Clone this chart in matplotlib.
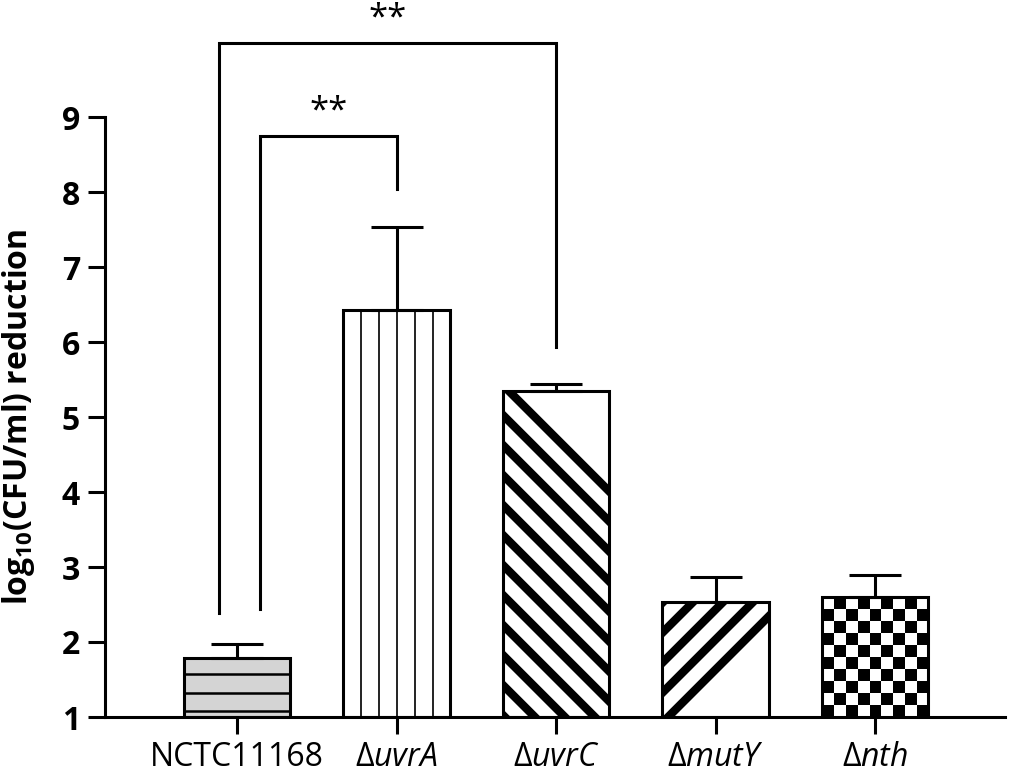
import numpy as np
import matplotlib
matplotlib.use("Agg")
import matplotlib.pyplot as plt

plt.rcParams['font.family'] = ['Open Sans', 'DejaVu Sans']
plt.rcParams['mathtext.fontset'] = 'custom'
plt.rcParams['mathtext.rm'] = 'Open Sans'
plt.rcParams['mathtext.it'] = 'Open Sans:italic'
plt.rcParams['mathtext.bf'] = 'Open Sans:bold'

# ---------------- data ----------------
categories = ['NCTC11168', r'$\Delta\mathit{uvrA}$', r'$\Delta\mathit{uvrC}$',
              r'$\Delta\mathit{mutY}$', r'$\Delta\mathit{nth}$']
values = [1.79, 6.43, 5.35, 2.54, 2.60]
errors = [0.18, 1.10, 0.09, 0.33, 0.29]
yticks = [1, 2, 3, 4, 5, 6, 7, 8, 9]
# significance comparisons: (left group, right group, label)
comparisons = [(0, 2, '**'), (0, 1, '**')]
bracket_tops = [9.99, 8.75]
bracket_left_ends = [2.39, 2.44]
bracket_right_ends = [5.93, 8.04]

# ---------------- figure ----------------
W, H = 1009, 778
fig = plt.figure(figsize=(W / 100, H / 100), dpi=100)
ax = fig.add_axes([105 / W, (H - 717) / H, 900 / W, 600 / H])
x = np.arange(len(categories))
ax.set_xlim(-0.828, 4.815)
ax.set_ylim(1, 9)

LW = 2.2
bw = 0.67
fills = ['#d4d4d4', 'white', 'white', 'white', 'white']
bars = ax.bar(x, np.array(values) - 1, bottom=1, width=bw, color=fills,
              edgecolor='none', zorder=2)
ax.bar(x, np.array(values) - 1, bottom=1, width=bw, facecolor='none',
       edgecolor='black', linewidth=LW, zorder=5)

inv = ax.transData.inverted()


def px_rect(patch):
    x0, y0 = patch.get_x(), patch.get_y()
    x1, y1 = x0 + patch.get_width(), y0 + patch.get_height()
    (px0, py0), (px1, py1) = ax.transData.transform([(x0, y0), (x1, y1)])
    return px0, py0, px1, py1


def draw_px_line(p, q, patch, lw, color='black'):
    d = inv.transform([p, q])
    ln, = ax.plot(d[:, 0], d[:, 1], color=color, lw=lw, zorder=3,
                  solid_capstyle='butt')
    ln.set_clip_path(patch)


# NCTC11168: horizontal lines
p = bars[0]
px0, py0, px1, py1 = px_rect(p)
yy = py0 + 6
while yy < py1:
    draw_px_line((px0 - 5, yy), (px1 + 5, yy), p, 1.8)
    yy += 18.5

# uvrA: vertical thin lines
p = bars[1]
px0, py0, px1, py1 = px_rect(p)
cx = (px0 + px1) / 2
for k in range(-4, 5):
    xx = cx + 18 * k
    if px0 + 2 < xx < px1 - 2:
        draw_px_line((xx, py0 - 5), (xx, py1 + 5), p, 1.4, '#222222')

STRIPE = 6.0
period = 30
# uvrC: thick "\" stripes
p = bars[2]
px0, py0, px1, py1 = px_rect(p)
c = px0 + py1 + 6
w = px1 - px0
while c > px0 + py0 - w - period:
    # line: x + y = c
    draw_px_line((px0 - 50, c - (px0 - 50)), (px1 + 50, c - (px1 + 50)), p, STRIPE)
    c -= period

# mutY: thick "/" stripes
p = bars[3]
px0, py0, px1, py1 = px_rect(p)
c = py0 - px0 - 6
while c < py1 - px0 + period:
    # line: y - x = c
    draw_px_line((px0 - 50, c + px0 - 50), (px1 + 50, c + px1 + 50), p, STRIPE)
    c += period

# nth: checkerboard
p = bars[4]
px0, py0, px1, py1 = px_rect(p)
nx = int(round((px1 - px0) / 11.8))
ny = int(round((py1 - py0) / 11.8))
ii, jj = np.meshgrid(np.arange(nx), np.arange(ny))
board = ((ii + jj) % 2 == 0).astype(float)  # row 0 = top, top-left white
im = ax.imshow(board, cmap='gray', vmin=0, vmax=1, interpolation='nearest',
               extent=(p.get_x(), p.get_x() + p.get_width(), p.get_y(),
                       p.get_y() + p.get_height()),
               aspect='auto', origin='upper', zorder=3)
im.set_clip_path(p)
ax.set_xlim(-0.828, 4.815)
ax.set_ylim(1, 9)

# error bars (upper only)
ax.errorbar(x, values, yerr=[np.zeros(len(values)), errors], fmt='none',
            ecolor='black', elinewidth=LW, capsize=18.7, capthick=LW, zorder=4)

# significance brackets
offsets_left = [-0.113, 0.144]
for (i, j, lab), top, le, re, ol in zip(comparisons, bracket_tops,
                                        bracket_left_ends, bracket_right_ends,
                                        offsets_left):
    xl, xr = x[i] + ol, x[j]
    ax.plot([xl, xl, xr, xr], [le, top, top, re], color='black', lw=LW,
            clip_on=False, zorder=6, solid_joinstyle='miter')
    ax.text((xl + xr) / 2, top + 0.2, lab, ha='center', va='baseline',
            fontsize=25, clip_on=False)

# axes styling
for s in ['top', 'right']:
    ax.spines[s].set_visible(False)
for s in ['left', 'bottom']:
    ax.spines[s].set_linewidth(LW)
ax.set_yticks(yticks)
ax.set_xticks(x)
ax.set_xticklabels(categories)
ax.tick_params(axis='y', direction='out', length=12, width=LW, pad=6,
               labelsize=23)
ax.tick_params(axis='x', direction='out', length=12, width=LW, pad=5,
               labelsize=23)
for t in ax.get_yticklabels():
    t.set_fontweight('bold')
ax.set_ylabel(r'log$_{\mathbf{10}}$(CFU/ml) reduction', fontsize=23,
              fontweight='bold')
ax.yaxis.set_label_coords(-0.076, 0.5)

fig.savefig('out.png', dpi=100)
